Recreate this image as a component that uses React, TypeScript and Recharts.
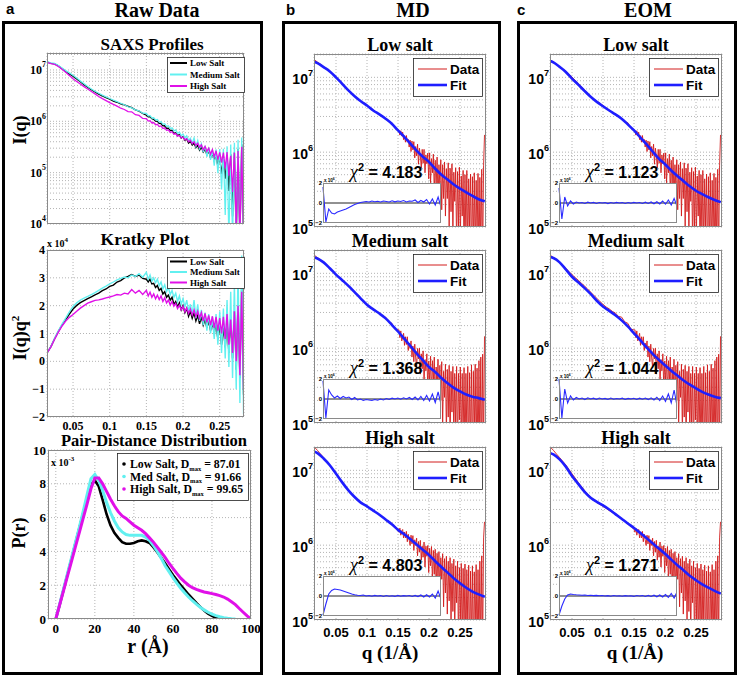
import React from "react";
import { LineChart, Line, XAxis, YAxis, CartesianGrid, ReferenceLine } from "recharts";

const SERIF = '"Liberation Serif", "Times New Roman", Times, serif';
const SANS = '"Liberation Sans", Arial, Helvetica, sans-serif';

const GRID = "#b4b4b4";
const FRAME = "#8a8a8a";
const RED = "#d21c1c";
const BLUE = "#1e1eff";
const C_LOW = "#000000";
const C_MED = "#62f0f0";
const C_HIGH = "#e010e8";

// q grid (1/Å): common low-q part, then the tails used by panel a and by panels b/c
const qHead = [
  0.015, 0.02, 0.025, 0.03, 0.035, 0.04, 0.045, 0.05, 0.055, 0.06, 0.065, 0.07, 0.075, 0.08,
  0.085, 0.09, 0.095, 0.1, 0.105, 0.11, 0.115, 0.12, 0.125, 0.13, 0.135, 0.14, 0.145, 0.15,
];
const qRawTail = [
  0.1525, 0.155, 0.1575, 0.16, 0.1625, 0.165, 0.1675, 0.17, 0.1725, 0.175, 0.1775, 0.18, 0.1825,
  0.185, 0.1875, 0.19, 0.1925, 0.195, 0.1975, 0.2, 0.2025, 0.205, 0.2075, 0.21, 0.2125, 0.215,
  0.2175, 0.22, 0.2225, 0.225, 0.2275, 0.23, 0.2325, 0.235, 0.2375, 0.24, 0.2425, 0.245, 0.2475,
  0.25, 0.2525, 0.255, 0.2575, 0.26, 0.2625, 0.265, 0.2675, 0.27, 0.2725, 0.275, 0.2775, 0.28,
  0.2825, 0.285, 0.2875, 0.29,
];
const qFitTail = [
  0.1515, 0.153, 0.1545, 0.156, 0.1575, 0.159, 0.1605, 0.162, 0.1635, 0.165, 0.1665, 0.168, 0.1695,
  0.171, 0.1725, 0.174, 0.1755, 0.177, 0.1785, 0.18, 0.1815, 0.183, 0.1845, 0.186, 0.1875, 0.189,
  0.1905, 0.192, 0.1935, 0.195, 0.1965, 0.198, 0.1995, 0.201, 0.2025, 0.204, 0.2055, 0.207, 0.2085,
  0.21, 0.2115, 0.213, 0.2145, 0.216, 0.2175, 0.219, 0.2205, 0.222, 0.2235, 0.225, 0.2265, 0.228,
  0.2295, 0.231, 0.2325, 0.234, 0.2355, 0.237, 0.2385, 0.24, 0.2415, 0.243, 0.2445, 0.246, 0.2475,
  0.249, 0.2505, 0.252, 0.2535, 0.255, 0.2565, 0.258, 0.2595, 0.261, 0.2625, 0.264, 0.2655, 0.267,
  0.2685, 0.27, 0.2715, 0.273, 0.2745, 0.276, 0.2775, 0.279, 0.2805, 0.282, 0.2835, 0.285, 0.2865,
  0.288, 0.2895,
];

// panel a: raw SAXS intensity, units of 1e4 (on qHead + qRawTail)
const saxsLow = [
  1420, 1350, 1312, 1200, 1061, 938, 840, 752, 665, 587, 517, 459, 413, 373, 338, 312, 289, 269,
  248, 235, 219, 208, 195, 185, 167, 158, 142, 131,
  122.6, 122.7, 112, 109.5, 100.4, 99.8, 90.8, 90.7, 81.3, 81.8, 72.9, 73.5, 66, 67.2, 58.2, 59.6,
  52.7, 55.2, 47.4, 50, 42.7, 45.2, 37.6, 40.9, 34.3, 37.8, 30.6, 34.2, 27.3, 31.7, 25.1, 28.4,
  22.2, 26.2, 19.5, 24.4, 17, 22.5, 13, 20.8, 9.4, 18.5, 7.6, 20.7, 4.4, 22.7, 1.4, 24.7, 0.5, 29,
  0.5, 35.8, 0.5, 39.4, 0.5, 23.8,
];
const saxsMed = [
  1440, 1375, 1344, 1222, 1093, 969, 879, 788, 695, 612, 538, 475, 427, 385, 352, 323, 300, 278,
  258, 242, 225, 210, 192, 183.5, 167.4, 160.6, 143.8, 142,
  126.9, 129, 116, 117.3, 106.9, 108.3, 96.8, 98.6, 87.4, 89.9, 79.3, 81.9, 72, 74.5, 65.3, 67.9,
  58.1, 61.8, 52.5, 56.3, 47.6, 52.4, 41.8, 46.5, 37.6, 47.5, 32.7, 42.4, 29.3, 36.6, 25.1, 33.1,
  20.4, 30.8, 17.7, 27.8, 13.6, 28.4, 9.8, 28.8, 4.7, 29.3, 1.5, 32.6, 0.5, 35.5, 0.5, 38.4, 0.5,
  43.6, 0.5, 48.6, 0.5, 51.7, 0.5, 35.7,
];
const saxsHigh = [
  1400, 1325, 1280, 1167, 1036, 906, 781, 672, 596, 531, 474, 426, 381, 342, 305, 276, 253, 231,
  213, 198, 180, 170, 155, 153, 134.5, 130, 114, 113,
  101, 103, 92.7, 94.6, 85.3, 87.3, 79, 81.3, 72.2, 74.6, 66.6, 68, 60.6, 62.8, 56.2, 57.6, 51.3,
  53.1, 47.4, 49.5, 43.4, 45.7, 39.9, 42.7, 36.7, 40, 33.8, 37.3, 31.3, 34.7, 28, 32.5, 25.9, 29.9,
  23, 28.2, 20.4, 26.7, 17.9, 24.8, 15.7, 24.6, 12.1, 25.2, 8.7, 21.3, 4.2, 24.7, 0.8, 26.4, 0.5,
  32, 0.5, 43, 0.5, 29.8,
];

// panel a: Kratky I(q)q^2, units of 1e4 (on qHead + qRawTail)
const kratkyLow = [
  0.32, 0.54, 0.82, 1.08, 1.3, 1.5, 1.7, 1.88, 2.01, 2.11, 2.18, 2.25, 2.32, 2.39, 2.45, 2.54,
  2.6, 2.69, 2.74, 2.85, 2.9, 3.0, 3.05, 3.12, 3.05, 3.1, 2.98, 2.95,
  2.85, 2.95, 2.78, 2.8, 2.65, 2.72, 2.55, 2.62, 2.42, 2.5, 2.3, 2.38, 2.2, 2.3, 2.05, 2.15, 1.95,
  2.1, 1.85, 2.0, 1.75, 1.9, 1.62, 1.8, 1.55, 1.75, 1.45, 1.65, 1.35, 1.6, 1.3, 1.5, 1.2, 1.45,
  1.1, 1.4, 1.0, 1.35, 0.8, 1.3, 0.6, 1.2, 0.5, 1.4, 0.3, 1.6, 0.1, 1.8, -0.3, 2.2, -0.6, 2.8,
  -1.2, 3.2, -1.5, 2.0,
];
const kratkyMed = [
  0.32, 0.55, 0.84, 1.1, 1.34, 1.55, 1.78, 1.97, 2.1, 2.2, 2.27, 2.33, 2.4, 2.47, 2.55, 2.63,
  2.7, 2.78, 2.85, 2.93, 2.98, 3.03, 3.0, 3.1, 3.05, 3.15, 3.02, 3.2,
  2.95, 3.1, 2.88, 3.0, 2.82, 2.95, 2.72, 2.85, 2.6, 2.75, 2.5, 2.65, 2.4, 2.55, 2.3, 2.45, 2.15,
  2.35, 2.05, 2.25, 1.95, 2.2, 1.8, 2.05, 1.7, 2.2, 1.55, 2.05, 1.45, 1.85, 1.3, 1.75, 1.1, 1.7,
  1.0, 1.6, 0.8, 1.7, 0.6, 1.8, 0.3, 1.9, 0.1, 2.2, -0.2, 2.5, -0.6, 2.8, -1.0, 3.3, -1.5, 3.8,
  -1.9, 4.2, -2.2, 3.0,
];
const kratkyHigh = [
  0.32, 0.53, 0.8, 1.05, 1.27, 1.45, 1.58, 1.68, 1.8, 1.91, 2.0, 2.09, 2.14, 2.19, 2.21, 2.24,
  2.28, 2.31, 2.35, 2.4, 2.38, 2.45, 2.42, 2.58, 2.45, 2.55, 2.4, 2.55,
  2.35, 2.48, 2.3, 2.42, 2.25, 2.38, 2.22, 2.35, 2.15, 2.28, 2.1, 2.2, 2.02, 2.15, 1.98, 2.08,
  1.9, 2.02, 1.85, 1.98, 1.78, 1.92, 1.72, 1.88, 1.66, 1.85, 1.6, 1.8, 1.55, 1.75, 1.45, 1.72,
  1.4, 1.65, 1.3, 1.62, 1.2, 1.6, 1.1, 1.55, 1.0, 1.6, 0.8, 1.7, 0.6, 1.5, 0.3, 1.8, 0.0, 2.0,
  -0.5, 2.5, -1.0, 3.5, -1.2, 2.5,
];

// panel a: pair-distance distribution, units of 1e-3
const rGrid = [
  0, 2, 4, 6, 8, 10, 12, 14, 16, 18, 20, 22, 24, 26, 28, 30, 32, 34, 36, 38, 40, 42, 44, 46, 48,
  50, 52, 54, 56, 58, 60, 62, 64, 66, 68, 70, 72, 74, 76, 78, 80, 82, 84, 86, 88, 90, 92, 94, 96,
  98, 100,
];
const prLow = [
  0, 0.85, 1.75, 2.65, 3.55, 4.45, 5.35, 6.25, 7.15, 7.95, 8.2, 7.85, 7.05, 6.2, 5.55, 5.1, 4.8,
  4.55, 4.45, 4.45, 4.5, 4.6, 4.65, 4.6, 4.5, 4.25, 3.95, 3.62, 3.3, 2.95, 2.6, 2.3, 2.0, 1.72,
  1.45, 1.2, 0.95, 0.72, 0.5, 0.32, 0.18, 0.08, 0.02, 0,
];
const prMed = [
  0, 0.9, 1.8, 2.7, 3.6, 4.5, 5.4, 6.35, 7.35, 8.3, 8.55, 8.2, 7.6, 6.9, 6.3, 5.8, 5.4, 5.15, 5.0,
  4.95, 4.95, 4.95, 4.95, 4.85, 4.65, 4.35, 4.0, 3.6, 3.15, 2.8, 2.45, 2.12, 1.82, 1.55, 1.3,
  1.08, 0.88, 0.7, 0.54, 0.4, 0.29, 0.2, 0.13, 0.08, 0.04, 0.01, 0,
];
const prHigh = [
  0, 0.85, 1.7, 2.55, 3.4, 4.25, 5.1, 5.95, 6.8, 7.7, 8.35, 8.35, 8.0, 7.55, 7.1, 6.7, 6.35, 6.1,
  5.95, 5.75, 5.55, 5.4, 5.25, 5.05, 4.8, 4.55, 4.25, 3.95, 3.65, 3.3, 3.0, 2.7, 2.42, 2.2, 2.0,
  1.85, 1.75, 1.67, 1.6, 1.55, 1.5, 1.45, 1.38, 1.3, 1.18, 1.02, 0.85, 0.62, 0.4, 0.18, 0,
];

// panels b, c: measured intensity, units of 1e5 (qHead part, then qFitTail part)
const dataLowHead = [
  172, 160, 150, 139, 130, 120, 110, 101, 91, 83, 75, 68, 61, 56, 51, 48, 45, 42, 39, 36.5, 34,
  32, 30, 28, 25.5, 24.8, 21, 20,
];
const dataLowTail = [
  19.0, 16.9, 19.3, 16.4, 18.5, 14.7, 16.6, 13.6, 16.7, 13.6, 14.8, 11.7, 14.5, 10.2, 14.1, 10.7,
  13.8, 8.4, 11.9, 8.9, 12.8, 6.9, 11.3, 8.9, 6.2, 10.9, 7.1, 10.9, 5.3, 9.2, 7.0, 9.7, 4.4, 9.8,
  3.9, 8.2, 5.3, 9.4, 2.8, 7.8, 3.5, 8.6, 2.2, 6.8, 3.7, 7.9, 1.7, 6.8, 2.4, 7.4, 1.4, 6.0, 2.4,
  7.2, 1.0, 6.1, 1.6, 7.0, 0.76, 5.4, 2.2, 6.2, 0.52, 5.5, 1.0, 6.3, 0.65, 4.8, 1.4, 5.7, 0.36,
  5.0, 0.73, 5.7, 0.42, 4.4, 0.96, 5.1, 0.27, 4.7, 0.51, 5.3, 0.37, 4.2, 0.72, 5.2, 0.23, 4.6,
  0.45, 5.9, 0.34, 6.7, 17,
];
const dataMedHead = [
  175, 162, 152, 141, 130, 117, 106, 96, 88, 81, 74, 68, 62, 56, 51, 46.5, 42, 38.5, 35.5, 33.5,
  31, 29.5, 26.5, 26, 22.5, 21.5, 18, 17.5,
];
const dataMedTail = [
  17.6, 13.8, 17.0, 12.5, 13.9, 15.8, 10.9, 14.2, 11.2, 14.2, 9.3, 11.7, 9.9, 12.5, 7.6, 10.7,
  6.6, 11.3, 7.4, 5.5, 9.9, 7.2, 10.0, 4.5, 8.4, 5.3, 9.2, 3.6, 7.0, 5.0, 8.4, 2.9, 6.7, 3.6, 7.8,
  2.1, 6.8, 3.6, 7.6, 1.7, 5.6, 2.5, 7.1, 1.3, 5.9, 2.0, 6.6, 0.97, 4.9, 2.2, 6.1, 0.7, 5.2, 1.2,
  5.9, 0.48, 4.9, 1.4, 5.7, 0.59, 4.6, 0.86, 5.7, 0.33, 4.6, 1.1, 5.6, 0.39, 4.6, 0.63, 5.5, 0.25,
  4.6, 0.72, 5.7, 0.28, 4.7, 0.46, 6.0, 0.23, 4.9, 0.67, 6.1, 0.33, 5.4, 0.21, 6.8, 0.42, 7.6,
  0.25, 8.3, 0.41, 14.4,
];
const dataHighHead = [
  205, 185, 165, 148, 132, 118, 103, 90, 79, 69, 61, 54, 48.5, 44, 40, 37, 35, 33, 31, 29, 27.5,
  25.5, 24, 22, 21, 19, 18, 16.2,
];
const dataHighTail = [
  14.9, 16.9, 13.6, 15.5, 16.2, 12.5, 15.0, 12.5, 15.3, 11.1, 14.0, 11.8, 9.9, 13.6, 10.4, 13.4,
  8.5, 11.8, 9.9, 12.4, 7.2, 11.2, 8.1, 11.6, 6.3, 9.7, 6.9, 11.0, 5.1, 9.7, 7.1, 9.9, 4.3, 9.1,
  5.3, 9.6, 3.3, 8.5, 4.1, 8.8, 2.5, 7.8, 3.4, 8.2, 2.0, 6.8, 3.5, 7.7, 1.5, 6.6, 2.3, 7.1, 1.2,
  6.1, 1.8, 6.8, 0.86, 5.7, 1.3, 6.5, 0.63, 5.3, 1.7, 6.1, 0.48, 5.0, 0.92, 5.7, 0.36, 4.9, 0.71,
  5.6, 0.27, 4.7, 0.92, 5.4, 0.3, 4.5, 0.49, 5.3, 0.24, 4.4, 0.69, 5.5, 0.27, 4.7, 0.44, 6.1,
  0.32, 7.2, 0.42, 12.5, 20.5,
];

// fitted curves, units of 1e5
const qFit = [
  0.015, 0.02, 0.03, 0.04, 0.05, 0.06, 0.07, 0.08, 0.09, 0.1, 0.11, 0.12, 0.13, 0.14, 0.15, 0.16,
  0.17, 0.18, 0.19, 0.2, 0.21, 0.22, 0.23, 0.24, 0.25, 0.26, 0.27, 0.28, 0.29,
];
const fitLowMD = [160, 155, 137, 120, 100, 82, 67, 56, 48, 42, 36, 32, 28, 24, 19.5, 16, 13, 10.5, 8.7, 7.4, 6.0, 5.0, 4.3, 3.7, 3.25, 2.9, 2.6, 2.35, 2.2];
const fitMedMD = [163, 158, 140, 117, 96, 81, 68, 56, 46, 38, 33, 29, 25, 20.5, 16.7, 13.4, 10.7, 8.5, 6.9, 5.6, 4.8, 4.0, 3.4, 2.95, 2.65, 2.4, 2.25, 2.15, 2.05];
const fitHighMD = [178, 170, 144, 117, 90, 69, 54, 44, 37, 33, 29, 25.5, 22, 19, 16, 14, 12, 10.2, 8.7, 7.4, 6.1, 5.1, 4.3, 3.6, 3.1, 2.7, 2.4, 2.2, 2.05];
const fitLowEOM = [165, 158, 138, 118, 96, 80, 66, 55, 47, 41, 36, 32, 28, 23.5, 19.5, 15.8, 12.8, 10.2, 8.2, 6.9, 5.7, 4.8, 4.1, 3.5, 3.05, 2.75, 2.5, 2.3, 2.15];
const fitMedEOM = [165, 160, 140, 113, 90, 76, 64, 53, 43, 36, 31.5, 27.5, 23.5, 19.5, 15.8, 12.8, 10.3, 8.4, 7.0, 5.9, 5.0, 4.3, 3.7, 3.25, 2.9, 2.6, 2.4, 2.25, 2.15];
const fitHighEOM = [170, 163, 140, 112, 84, 66, 52, 43, 38, 34, 30, 26, 22.5, 19.5, 17, 14.6, 12.5, 10.6, 9.0, 7.7, 6.4, 5.4, 4.6, 3.9, 3.4, 3.0, 2.7, 2.45, 2.25];

// residual insets, units of 1e6
const qRes = [
  0.015, 0.02, 0.025, 0.03, 0.035, 0.04, 0.045, 0.05, 0.055, 0.06, 0.065, 0.07, 0.075, 0.08,
  0.085, 0.09, 0.095, 0.1, 0.105, 0.11, 0.115, 0.12, 0.125, 0.13, 0.135, 0.14, 0.145, 0.15,
  0.155, 0.16, 0.165, 0.17, 0.175, 0.18, 0.185, 0.19, 0.195, 0.2, 0.205, 0.21, 0.215, 0.22,
];
const resLowMD = [1.6, -1.9, -0.6, -1.0, -1.1, -0.9, -0.8, -0.7, -0.6, -0.45, -0.3, -0.15, -0.05, 0.05, 0.1, 0.15, 0.1, 0.2, 0.12, 0.18, 0.1, 0.2, 0.15, 0.1, 0.22, 0.12, 0.2, 0.15, 0.25, 0.1, 0.2, 0.18, 0.3, 0.05, 0.25, 0.1, 0.35, -0.1, 0.4, -0.2, 0.6, -0.4];
const resMedMD = [1.8, -1.9, 0.9, 0.4, 0.1, 0.3, 0.05, 0.25, 0.1, 0.2, -0.05, 0.15, -0.1, 0.0, -0.15, -0.05, -0.1, -0.15, -0.05, -0.12, 0.0, -0.1, 0.05, -0.05, 0.08, 0.0, 0.1, -0.02, 0.12, 0.0, 0.15, -0.05, 0.2, -0.1, 0.25, -0.15, 0.35, -0.2, 0.5, -0.35, 0.7, -0.5];
const resHighMD = [-1.9, -0.8, 0.2, 0.55, 0.7, 0.65, 0.6, 0.5, 0.4, 0.3, 0.2, 0.12, 0.08, 0.05, 0.1, 0.0, 0.05, -0.02, 0.06, 0.0, 0.04, -0.05, 0.05, -0.02, 0.03, -0.04, 0.06, -0.03, 0.04, 0.0, 0.05, -0.05, 0.06, -0.06, 0.1, -0.1, 0.12, -0.1, 0.2, -0.2, 0.5, -0.3];
const resLowEOM = [1.5, -1.6, 0.6, -0.3, 0.2, -0.1, 0.1, 0.0, 0.05, -0.05, 0.08, 0.0, 0.06, -0.04, 0.05, 0.0, 0.04, -0.06, 0.05, -0.02, 0.06, 0.0, 0.04, -0.05, 0.05, -0.03, 0.06, 0.0, 0.05, -0.04, 0.08, -0.05, 0.1, -0.08, 0.12, -0.1, 0.2, -0.12, 0.3, -0.2, 0.45, -0.3];
const resMedEOM = [2.0, -1.9, 1.0, -0.4, 0.3, -0.1, 0.15, 0.0, 0.1, -0.05, 0.12, 0.0, 0.08, -0.05, 0.1, 0.0, 0.06, -0.04, 0.1, -0.02, 0.05, 0.0, 0.08, -0.05, 0.06, 0.0, 0.07, -0.04, 0.08, -0.02, 0.1, -0.06, 0.12, -0.1, 0.18, -0.15, 0.3, -0.25, 0.5, -0.4, 0.9, -0.7];
const resHighEOM = [-1.9, -1.0, -0.3, 0.1, 0.2, 0.15, 0.12, 0.1, 0.08, 0.1, 0.05, 0.08, 0.04, 0.06, 0.02, 0.05, 0.0, 0.04, -0.02, 0.05, 0.0, 0.03, -0.03, 0.04, 0.0, 0.03, -0.04, 0.05, 0.0, 0.04, -0.05, 0.06, -0.04, 0.08, -0.08, 0.1, -0.1, 0.15, -0.15, 0.25, -0.2, 0.4];

const saltTitles = ["Low salt", "Medium salt", "High salt"];
const chiMD = ["4.183", "1.368", "4.803"];
const chiEOM = ["1.123", "1.044", "1.271"];
const rawNames = ["Low Salt", "Medium Salt", "High Salt"];
const prNames = ["Low Salt, D", "Med Salt, D", "High Salt, D"];
const dmax = ["87.01", "91.66", "99.65"];

const qTicks = [0.05, 0.1, 0.15, 0.2, 0.25];
const kratkyTicks = [-2, -1, 0, 1, 2, 3, 4];
const prXTicks = [0, 20, 40, 60, 80, 100];
const prYTicks = [0, 2, 4, 6, 8, 10];
const resTicks = [-2, 0, 2];

type Box = { x: number; y: number; w: number; h: number };

const A_SAXS: Box = { x: 47, y: 53, w: 197, h: 171 };
const A_KR: Box = { x: 47, y: 250, w: 197, h: 167 };
const A_PR: Box = { x: 48, y: 450, w: 203, h: 169 };
const COL_X = [314, 550];
const ROW_Y = [54, 250, 447];
const FIT_W = 172;
const FIT_H = 173;

const qRaw = [...qHead, ...qRawTail];
const pts = (xs: number[], ys: number[]) => ys.map((v, i) => ({ x: xs[i], v }));
const measured = (head: number[], tail: number[]) => [...pts(qHead, head), ...pts(qFitTail, tail)];

function decadeTicks(max: number) {
  const out: number[] = [];
  for (let p = 1; p <= max; p *= 10)
    for (let m = 1; m <= 9; m++) if (m * p <= max) out.push(m * p);
  return out;
}
const ticksA = decadeTicks(2140);
const ticksB = decadeTicks(205);

const minus = (v: number) => (v < 0 ? "\u2212" + Math.abs(v) : String(v));

function PowTick(props: any) {
  const { x, y, payload, exp0, font, size, dy } = props;
  const v = Number(payload?.value);
  const e = Math.round(Math.log10(v));
  if (Math.abs(v - Math.pow(10, e)) > 1e-6 * v) return <g />;
  return (
    <text x={x - 1} y={y + dy} textAnchor="end" fontFamily={font} fontWeight="bold" fontSize={size} fill="#000">
      10
      <tspan dy={-size * 0.55} fontSize={size * 0.65}>
        {e + exp0}
      </tspan>
    </text>
  );
}

function NumTick(props: any) {
  const { x, y, payload, font, size, dy } = props;
  return (
    <text x={x - 2} y={y + dy} textAnchor="end" fontFamily={font} fontWeight="bold" fontSize={size} fill="#000">
      {minus(Number(payload?.value))}
    </text>
  );
}

function XTick(props: any) {
  const { x, y, payload, font, size, dy, show } = props;
  if (!show) return <g />;
  return (
    <text x={x} y={y + dy} textAnchor="middle" fontFamily={font} fontWeight="bold" fontSize={size} fill="#000">
      {String(payload?.value)}
    </text>
  );
}

function TinyTick(props: any) {
  const { x, y, payload } = props;
  return (
    <text x={x - 1} y={y + 2} textAnchor="end" fontFamily={SANS} fontWeight="bold" fontSize={6} fill="#000">
      {minus(Number(payload?.value))}
    </text>
  );
}

function Chart({ box, pl, pt, pr, pb, mb = 0, children }: any) {
  return (
    <div style={{ position: "absolute", left: box.x - pl, top: box.y - pt }}>
      <LineChart width={box.w + pl + pr} height={box.h + pt + pb + mb} margin={{ top: pt, right: pr, bottom: mb, left: 0 }}>
        {children}
      </LineChart>
    </div>
  );
}

const axisBase = { axisLine: false, tickLine: false, tickSize: 0, tickMargin: 0, allowDataOverflow: true, interval: 0 } as const;

function rawSaxs() {
  return (
    <Chart box={A_SAXS} pl={40} pt={8} pr={4} pb={8}>
      <CartesianGrid stroke={GRID} strokeDasharray="1 2" />
      <XAxis {...axisBase} type="number" dataKey="x" domain={[0.0145, 0.2831]} ticks={qTicks} height={8} tick={() => <g />} />
      <YAxis {...axisBase} type="number" scale="log" domain={[1, 2140]} ticks={ticksA} width={40}
        tick={(p: any) => <PowTick {...p} exp0={4} font={SERIF} size={12} dy={4} />} />
      <Line data={pts(qRaw, saxsLow)} dataKey="v" stroke={C_LOW} strokeWidth={1.3} dot={false} isAnimationActive={false} />
      <Line data={pts(qRaw, saxsMed)} dataKey="v" stroke={C_MED} strokeWidth={1.3} dot={false} isAnimationActive={false} />
      <Line data={pts(qRaw, saxsHigh)} dataKey="v" stroke={C_HIGH} strokeWidth={1.3} dot={false} isAnimationActive={false} />
    </Chart>
  );
}

function rawKratky() {
  return (
    <Chart box={A_KR} pl={40} pt={8} pr={4} pb={16}>
      <CartesianGrid stroke={GRID} strokeDasharray="1 2" />
      <XAxis {...axisBase} type="number" dataKey="x" domain={[0.0145, 0.2831]} ticks={qTicks} height={16}
        tick={(p: any) => <XTick {...p} show font={SERIF} size={12} dy={12.5} />} />
      <YAxis {...axisBase} type="number" domain={[-2, 4]} ticks={kratkyTicks} width={40}
        tick={(p: any) => <NumTick {...p} font={SERIF} size={12} dy={4} />} />
      <Line data={pts(qRaw, kratkyLow)} dataKey="v" stroke={C_LOW} strokeWidth={1.4} dot={false} isAnimationActive={false} />
      <Line data={pts(qRaw, kratkyMed)} dataKey="v" stroke={C_MED} strokeWidth={1.4} dot={false} isAnimationActive={false} />
      <Line data={pts(qRaw, kratkyHigh)} dataKey="v" stroke={C_HIGH} strokeWidth={1.4} dot={false} isAnimationActive={false} />
    </Chart>
  );
}

function rawPr() {
  return (
    <Chart box={A_PR} pl={40} pt={8} pr={14} pb={18}>
      <CartesianGrid stroke={GRID} strokeDasharray="1 2" />
      <XAxis {...axisBase} type="number" dataKey="x" domain={[-4, 100]} ticks={prXTicks} height={18}
        tick={(p: any) => <XTick {...p} show font={SERIF} size={13} dy={14} />} />
      <YAxis {...axisBase} type="number" domain={[0, 10]} ticks={prYTicks} width={40}
        tick={(p: any) => <NumTick {...p} font={SERIF} size={13} dy={4.5} />} />
      <Line data={pts(rGrid, prLow)} dataKey="v" stroke={C_LOW} strokeWidth={2.6} dot={false} isAnimationActive={false} />
      <Line data={pts(rGrid, prMed)} dataKey="v" stroke={C_MED} strokeWidth={3} dot={false} isAnimationActive={false} />
      <Line data={pts(rGrid, prHigh)} dataKey="v" stroke={C_HIGH} strokeWidth={3} dot={false} isAnimationActive={false} />
    </Chart>
  );
}

const dataRows = [
  measured(dataLowHead, dataLowTail),
  measured(dataMedHead, dataMedTail),
  measured(dataHighHead, dataHighTail),
];
const fitRows = [
  [fitLowMD, fitMedMD, fitHighMD],
  [fitLowEOM, fitMedEOM, fitHighEOM],
];
const resRows = [
  [resLowMD, resMedMD, resHighMD],
  [resLowEOM, resMedEOM, resHighEOM],
];

const fitBox = (col: number, row: number): Box => ({ x: COL_X[col], y: ROW_Y[row], w: FIT_W, h: FIT_H });
const insetBox = (b: Box): Box => ({ x: b.x + 9, y: b.y + b.h - 44, w: 118, h: 40 });

function fitPanel(col: number, row: number) {
  const b = fitBox(col, row);
  const ib = insetBox(b);
  const last = row === 2;
  return (
    <React.Fragment key={`fp-${col}-${row}`}>
      <Chart box={b} pl={40} pt={8} pr={6} pb={last ? 22 : 8}>
        <CartesianGrid stroke={GRID} strokeDasharray="1 2" />
        <XAxis {...axisBase} type="number" dataKey="x" domain={[0.0145, 0.2919]} ticks={qTicks} height={last ? 22 : 8}
          tick={(p: any) => <XTick {...p} show={last} font={SANS} size={13} dy={17} />} />
        <YAxis {...axisBase} type="number" scale="log" domain={[1, 205]} ticks={ticksB} width={40}
          tick={(p: any) => <PowTick {...p} exp0={5} font={SANS} size={14} dy={6.5} />} />
        <Line data={dataRows[row]} dataKey="v" stroke={RED} strokeWidth={0.9} dot={false} isAnimationActive={false} />
        <Line data={pts(qFit, fitRows[col][row])} dataKey="v" type="monotone" stroke={BLUE} strokeWidth={2.6} dot={false} isAnimationActive={false} />
      </Chart>
      <div style={{ position: "absolute", left: ib.x, top: ib.y, width: ib.w, height: ib.h, background: "#fff" }} />
      <Chart box={ib} pl={10} pt={4} pr={0} pb={0} mb={4}>
        <XAxis type="number" dataKey="x" domain={[0.015, 0.22]} hide />
        <YAxis {...axisBase} type="number" domain={[-2, 2]} ticks={resTicks} width={10} tick={(p: any) => <TinyTick {...p} />} />
        <ReferenceLine y={0} stroke="#222" strokeWidth={1} />
        <Line data={pts(qRes, resRows[col][row])} dataKey="v" stroke="#2a2aff" strokeWidth={1.1} dot={false} isAnimationActive={false} />
      </Chart>
    </React.Fragment>
  );
}

const frame = (b: Box, key: string) => (
  <rect key={key} x={b.x + 0.5} y={b.y + 0.5} width={b.w - 1} height={b.h - 1} fill="none" stroke={FRAME} strokeWidth={1} />
);

function Overlay() {
  const bold = { fontWeight: "bold" as const, fill: "#000" };
  const rawColors = [C_LOW, C_MED, C_HIGH];
  return (
    <svg width={738} height={677} style={{ position: "absolute", left: 0, top: 0, pointerEvents: "none" }}>
      <rect x={3.5} y={22.5} width={258} height={651} fill="none" stroke="#000" strokeWidth={3} />
      <rect x={283.5} y={22.5} width={216} height={651} fill="none" stroke="#000" strokeWidth={3} />
      <rect x={518.5} y={22.5} width={217} height={651} fill="none" stroke="#000" strokeWidth={3} />

      <text x={6} y={14} fontFamily={SANS} fontSize={15} {...bold}>a</text>
      <text x={286} y={15} fontFamily={SANS} fontSize={15} {...bold}>b</text>
      <text x={517} y={15} fontFamily={SANS} fontSize={15} {...bold}>c</text>
      <text x={157} y={17} textAnchor="middle" fontFamily={SERIF} fontSize={20} {...bold}>Raw Data</text>
      <text x={413} y={17} textAnchor="middle" fontFamily={SERIF} fontSize={20} {...bold}>MD</text>
      <text x={648} y={17} textAnchor="middle" fontFamily={SERIF} fontSize={20} {...bold}>EOM</text>

      <text x={152} y={50} textAnchor="middle" fontFamily={SERIF} fontSize={17} {...bold}>SAXS Profiles</text>
      <text x={145} y={245} textAnchor="middle" fontFamily={SERIF} fontSize={17.5} {...bold}>Kratky Plot</text>
      <text x={154} y={446} textAnchor="middle" fontFamily={SERIF} fontSize={16.5} {...bold}>Pair-Distance Distribution</text>

      {frame(A_SAXS, "fa1")}
      {frame(A_KR, "fa2")}
      {frame(A_PR, "fa3")}

      <text transform="translate(26,130) rotate(-90)" textAnchor="middle" fontFamily={SERIF} fontSize={18} {...bold}>I(q)</text>
      <text transform="translate(26,338) rotate(-90)" textAnchor="middle" fontFamily={SERIF} fontSize={18} {...bold}>
        I(q)q<tspan dy={-7} fontSize={11}>2</tspan>
      </text>
      <text transform="translate(25,533) rotate(-90)" textAnchor="middle" fontFamily={SERIF} fontSize={18} {...bold}>P(r)</text>
      <text x={148} y={653} textAnchor="middle" fontFamily={SERIF} fontSize={20} {...bold}>r (Å)</text>

      <text x={47} y={247} fontFamily={SERIF} fontSize={10} {...bold}>
        x 10<tspan dy={-5} fontSize={7}>4</tspan>
      </text>
      <text x={51} y={466} fontFamily={SERIF} fontSize={10} {...bold}>
        x 10<tspan dy={-5} fontSize={7}>-3</tspan>
      </text>

      {[
        { b: { x: 167, y: 57, w: 77, h: 35 }, rows: [63, 74.5, 86] },
        { b: { x: 167, y: 257, w: 77, h: 31 }, rows: [261.5, 272, 282.5] },
      ].map((lg, k) => (
        <g key={`rl${k}`}>
          <rect x={lg.b.x + 0.5} y={lg.b.y + 0.5} width={lg.b.w} height={lg.b.h} fill="#fff" stroke="#222" strokeWidth={0.8} />
          {lg.rows.map((ry, i) => (
            <g key={i}>
              <line x1={lg.b.x + 3} x2={lg.b.x + 20} y1={ry} y2={ry} stroke={rawColors[i]} strokeWidth={2} />
              <text x={lg.b.x + 23} y={ry + 3} fontFamily={SERIF} fontSize={9} {...bold}>{rawNames[i]}</text>
            </g>
          ))}
        </g>
      ))}
      <rect x={117.5} y={453.5} width={131} height={47} fill="#fff" stroke="#222" strokeWidth={0.8} />
      {[464, 476.5, 489].map((ry, i) => (
        <g key={`pl${i}`}>
          <circle cx={124} cy={ry} r={1.8} fill={rawColors[i]} />
          <text x={130} y={ry + 4} fontFamily={SERIF} fontSize={11.8} {...bold}>
            {prNames[i]}
            <tspan dy={2.5} fontSize={6.5}>max</tspan>
            <tspan dy={-2.5}>{" = " + dmax[i]}</tspan>
          </text>
        </g>
      ))}

      {[0, 1].map((col) =>
        [0, 1, 2].map((row) => {
          const b = fitBox(col, row);
          const ib = insetBox(b);
          const cx = b.x + b.w / 2;
          const lx = b.x + b.w - 73;
          const ly = b.y + 4;
          return (
            <g key={`ov${col}${row}`}>
              {frame(b, "f")}
              <text x={cx} y={b.y - 3} textAnchor="middle" fontFamily={SERIF} fontSize={18} {...bold}>{saltTitles[row]}</text>
              <rect x={lx + 0.5} y={ly + 0.5} width={69} height={38} fill="#fff" stroke="#222" strokeWidth={0.8} />
              <line x1={lx + 5} x2={lx + 34} y1={ly + 11} y2={ly + 11} stroke={RED} strokeWidth={1} />
              <text x={lx + 37} y={ly + 16} fontFamily={SANS} fontSize={13.5} {...bold}>Data</text>
              <line x1={lx + 5} x2={lx + 34} y1={ly + 27} y2={ly + 27} stroke={BLUE} strokeWidth={2.6} />
              <text x={lx + 37} y={ly + 32} fontFamily={SANS} fontSize={13.5} {...bold}>Fit</text>
              <text x={b.x + 36} y={b.y + b.h - 49} fontFamily={SANS} fontSize={16} {...bold}>
                <tspan fontFamily={SERIF} fontStyle="italic" fontWeight="normal" fontSize={18}>χ</tspan>
                <tspan dy={-7} fontSize={11}>2</tspan>
                <tspan dy={7}>{" = " + (col === 0 ? chiMD[row] : chiEOM[row])}</tspan>
              </text>
              <rect x={ib.x + 0.5} y={ib.y + 0.5} width={ib.w - 1} height={ib.h - 1} fill="none" stroke={FRAME} strokeWidth={1} />
              <text x={ib.x + 1} y={ib.y - 1} fontFamily={SANS} fontSize={4.5} {...bold}>
                x 10<tspan dy={-2} fontSize={3.5}>6</tspan>
              </text>
            </g>
          );
        })
      )}
      <text x={390} y={659} textAnchor="middle" fontFamily={SERIF} fontSize={19} {...bold}>q (1/Å)</text>
      <text x={635} y={659} textAnchor="middle" fontFamily={SERIF} fontSize={19} {...bold}>q (1/Å)</text>
    </svg>
  );
}

export default function App() {
  return (
    <div style={{ position: "absolute", left: 0, top: 0, width: 738, height: 677, background: "#fff", overflow: "hidden" }}>
      {rawSaxs()}
      {rawKratky()}
      {rawPr()}
      {[0, 1].map((col) => [0, 1, 2].map((row) => fitPanel(col, row)))}
      <Overlay />
    </div>
  );
}
